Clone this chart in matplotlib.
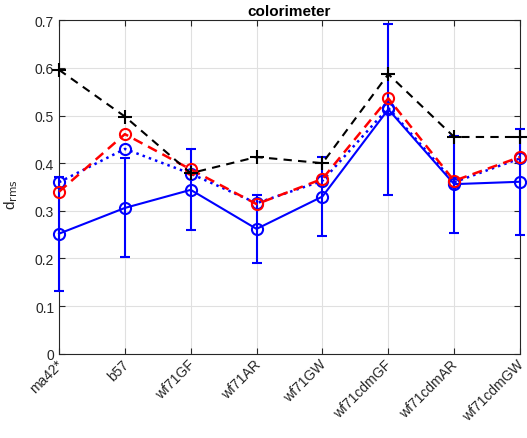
import numpy as np
import matplotlib
matplotlib.use("Agg")
import matplotlib.pyplot as plt
import matplotlib.transforms as mtransforms

# 各颜色测量方法
categories = ["ma42*", "b57", "wf71GF", "wf71AR", "wf71GW",
              "wf71cdmGF", "wf71cdmAR", "wf71cdmGW"]

# d_rms 结果
black_plus = [0.596, 0.498, 0.379, 0.413, 0.400, 0.587, 0.455, 0.455]
red_circle = [0.340, 0.461, 0.387, 0.314, 0.367, 0.536, 0.363, 0.413]
blue_dotted = [0.360, 0.430, 0.378, 0.316, 0.363, 0.516, 0.360, 0.410]
blue_solid = [0.252, 0.306, 0.344, 0.262, 0.330, 0.513, 0.356, 0.361]
blue_err = [0.120, 0.104, 0.085, 0.072, 0.082, 0.179, 0.102, 0.111]

plt.rcParams["font.family"] = ["Liberation Sans", "DejaVu Sans"]

fig = plt.figure(figsize=(5.27, 4.39), dpi=100)
ax = fig.add_axes([59 / 527, 1 - 354.7 / 439, 461 / 527, 333.4 / 439])

x = np.arange(1, len(categories) + 1)
eb = ax.errorbar(x, blue_solid, yerr=blue_err, color="#0000ff", lw=1.5,
                 marker="o", ms=8, mfc="none", mew=1.5, capsize=3.5,
                 elinewidth=1.5, capthick=1.5, zorder=3)
for art in eb.lines[0:1] + eb.lines[1] + eb.lines[2]:
    art.set_clip_on(False)
ax.plot(x, blue_dotted, ":", color="#0000ff", lw=1.8, marker="o", ms=8,
        mfc="none", mew=1.5, zorder=4, clip_on=False)
ax.plot(x, red_circle, "--", color="#ff0000", lw=1.8, marker="o", ms=8,
        mfc="none", mew=1.5, dashes=(4, 2.5), zorder=5, clip_on=False)
ax.plot(x, black_plus, "--", color="black", lw=1.5, marker="+", ms=10,
        mew=1.5, dashes=(4, 3), zorder=6, clip_on=False)

ax.set_xlim(1, 8)
ax.set_ylim(0, 0.7)
ax.set_xticks(x)
ax.set_yticks(np.arange(0, 0.71, 0.1))
ax.set_yticklabels(["0", "0.1", "0.2", "0.3", "0.4", "0.5", "0.6", "0.7"])
ax.tick_params(direction="in", length=4, labelsize=10, colors="#262626",
               top=True, right=True)
ax.tick_params(axis="x", pad=8)
ax.set_xticklabels(categories, rotation=45, ha="right", va="center",
                   rotation_mode="anchor")
# 标签整体右移一点
shift = mtransforms.ScaledTranslation(1.5 / 100, 3 / 100, fig.dpi_scale_trans)
for lbl in ax.get_xticklabels():
    lbl.set_transform(lbl.get_transform() + shift)
for s in ax.spines.values():
    s.set_color("#262626")
    s.set_linewidth(0.8)
ax.grid(True, color="#e0e0e0", lw=0.8)
ax.set_axisbelow(True)

ax.set_title("colorimeter", fontsize=11, fontweight="bold", pad=4)
ax.set_ylabel("d$_{\\mathrm{rms}}$", fontsize=11, color="#262626")
ax.yaxis.set_label_coords(-0.085, 0.48)

fig.savefig("out.png", dpi=100)
